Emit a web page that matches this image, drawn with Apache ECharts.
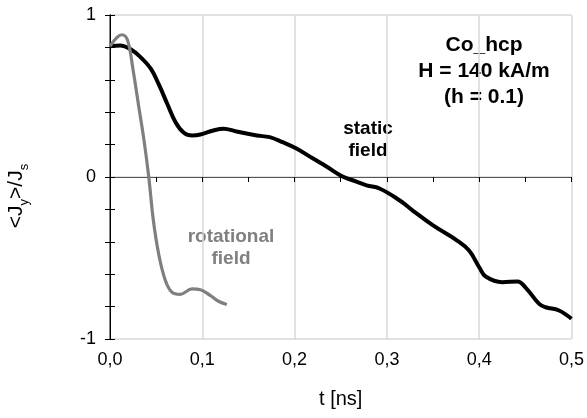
<!DOCTYPE html>
<html>
<head>
<meta charset="utf-8">
<script src="https://cdn.jsdelivr.net/npm/echarts@6/dist/echarts.min.js"></script>
<style>
    html, body {margin: 0; padding: 0; background: #fff;}
    #chart {width: 587px; height: 418px;}
</style>
</head>
<body>
<div id="chart"></div>
<script>
// static field (black)
const tStatic = [0, 0.011, 0.022, 0.033, 0.044, 0.053, 0.062, 0.071, 0.080, 0.089, 0.098, 0.112, 0.123, 0.137,
    0.159, 0.173, 0.187, 0.202, 0.220, 0.2345, 0.252, 0.267, 0.278, 0.292, 0.314, 0.328, 0.350, 0.375, 0.389,
    0.400, 0.407, 0.425, 0.4415, 0.4505, 0.465, 0.472, 0.4865, 0.500];
const vStatic = [0.807, 0.812, 0.79, 0.74, 0.67, 0.57, 0.452, 0.338, 0.273, 0.256, 0.262, 0.287, 0.298, 0.281,
    0.256, 0.246, 0.215, 0.176, 0.114, 0.065, 0.003, -0.028, -0.052, -0.071, -0.145, -0.207, -0.299, -0.388, -0.454,
    -0.557, -0.614, -0.649, -0.645, -0.684, -0.783, -0.804, -0.824, -0.875];

// rotational field (grey)
const tRot = [0, 0.013, 0.019, 0.025, 0.031, 0.037, 0.042, 0.047, 0.0527, 0.060, 0.067, 0.076,
    0.089, 0.098, 0.1085, 0.1175, 0.1266];
const vRot = [0.807, 0.878, 0.845, 0.66, 0.44, 0.22, 0.0, -0.269, -0.474, -0.639, -0.711, -0.725,
    -0.69, -0.696, -0.731, -0.767, -0.787];

const xTicks = [0, 0.1, 0.2, 0.3, 0.4, 0.5];
const yTicks = [-1, 0, 1];

const font = '"Liberation Sans", Arial, sans-serif';
const zip = (a, b) => a.map((v, i) => [v, b[i]]);

const myChart = echarts.init(document.getElementById('chart'));

const option = {
    animation: false,
    grid: {left: 110, right: 14, top: 15, bottom: 79},
    xAxis: [{
        type: 'value',
        min: xTicks[0],
        max: xTicks[xTicks.length - 1],
        interval: 0.1,
        axisLine: {lineStyle: {color: '#000', width: 1}},
        axisTick: {show: true, length: 5, lineStyle: {color: '#000'}},
        minorTick: {show: true, splitNumber: 2, length: 5, lineStyle: {color: '#000'}},
        splitLine: {show: true, lineStyle: {color: '#d9d9d9', width: 1.5}},
        axisLabel: {
            color: '#000', fontSize: 18, fontFamily: font, margin: 12,
            formatter: (v) => v.toFixed(1).replace('.', ','),
        },
        name: 't [ns]',
        nameLocation: 'middle',
        nameGap: 50,
        nameTextStyle: {color: '#000', fontSize: 20, fontFamily: font},
    }, {
        type: 'value',
        position: 'top',
        min: xTicks[0],
        max: xTicks[xTicks.length - 1],
        interval: 0.1,
        axisLine: {lineStyle: {color: '#555', width: 1}},
        axisTick: {show: false, inside: true},
        minorTick: {show: true, splitNumber: 2, length: 5, lineStyle: {color: '#000'}},
        splitLine: {show: false},
        axisLabel: {show: false},
    }],
    yAxis: [{
        type: 'value',
        min: yTicks[0],
        max: yTicks[yTicks.length - 1],
        interval: 1,
        axisLine: {lineStyle: {color: '#666', width: 1.5}},
        axisTick: {show: true, inside: true, length: 5, lineStyle: {color: '#000'}},
        minorTick: {show: true, splitNumber: 5, length: 5, lineStyle: {color: '#000'}},
        splitLine: {show: true, lineStyle: {color: '#d9d9d9', width: 1.5}},
        axisLabel: {color: '#000', fontSize: 18, fontFamily: font, margin: 14},
    }, {
        type: 'value',
        position: 'right',
        min: yTicks[0],
        max: yTicks[yTicks.length - 1],
        interval: 1,
        axisLine: {show: true, lineStyle: {color: '#000', width: 1}},
        axisTick: {show: true, inside: true, length: 5, lineStyle: {color: '#000'}},
        minorTick: {show: true, splitNumber: 5, length: 5, lineStyle: {color: '#000'}},
        splitLine: {show: false},
        axisLabel: {show: false},
    }],
    graphic: [
        {
            type: 'text',
            style: {
                text: 'Co_hcp\nH = 140 kA/m\n(h = 0.1)',
                x: 484, y: 32,
                fill: '#000', font: 'bold 21px ' + font, lineHeight: 26, align: 'center',
            },
            silent: true,
        },
        {
            type: 'text',
            style: {
                text: 'static\nfield',
                x: 368, y: 118,
                fill: '#000', font: 'bold 19px ' + font, lineHeight: 22, align: 'center',
            },
            silent: true,
        },
        {
            type: 'text',
            style: {
                text: 'rotational\nfield',
                x: 231, y: 226,
                fill: '#808080', font: 'bold 19px ' + font, lineHeight: 22, align: 'center',
            },
            silent: true,
        },
        {
            type: 'text',
            x: 16, y: 196,
            rotation: Math.PI / 2,
            style: {
                text: '{m|<J}{s|y}{m|>/J}{s|s}',
                align: 'center', verticalAlign: 'middle',
                rich: {
                    m: {fontSize: 21, fontFamily: font, fill: '#000', lineHeight: 30, verticalAlign: 'middle'},
                    s: {fontSize: 13, fontFamily: font, fill: '#000', lineHeight: 30, verticalAlign: 'bottom'},
                },
            },
            silent: true,
        },
    ],
    series: [{
        name: 'static field',
        type: 'line',
        data: zip(tStatic, vStatic),
        smooth: 0.4,
        showSymbol: false,
        lineStyle: {color: '#000', width: 4},
        z: 3,
    }, {
        name: 'rotational field',
        type: 'line',
        data: zip(tRot, vRot),
        smooth: 0.4,
        showSymbol: false,
        lineStyle: {color: '#7f7f7f', width: 3.2},
        z: 4,
    }],
};
myChart.setOption(option);
</script>
</body>
</html>
